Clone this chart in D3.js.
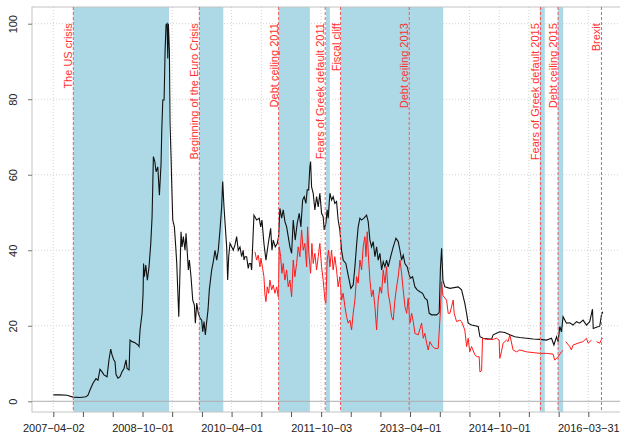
<!DOCTYPE html>
<html lang="en">
<head>
<meta charset="UTF-8">
<title>Volatility and events</title>
<script src="https://d3js.org/d3.v7.min.js"></script>
<style>
    body { margin: 0; padding: 0; background: #fff; }
    svg { display: block; font-family: "Liberation Sans", Arial, sans-serif; }
    .tick text { font-size: 11px; fill: #222; }
    .event-label { font-size: 11px; fill: #ff3030; }
</style>
</head>
<body>
<script>
// black series: decimal year / value
const blackYears = [2007.250,2007.363,2007.480,2007.581,2007.699,2007.800,2007.833,2007.867,2007.917,2007.968,
 2008.001,2008.035,2008.069,2008.102,2008.153,2008.186,2008.215,2008.237,2008.265,2008.287,2008.304,2008.337,
 2008.371,2008.405,2008.438,2008.472,2008.489,2008.523,2008.539,2008.573,2008.623,2008.674,2008.690,2008.707,
 2008.741,2008.758,2008.766,2008.779,2008.803,2008.830,2008.858,2008.887,2008.909,2008.931,2008.955,2008.976,
 2009.005,2009.032,2009.060,2009.072,2009.089,2009.111,2009.128,2009.144,2009.161,2009.173,2009.183,2009.200,
 2009.211,2009.228,2009.240,2009.257,2009.284,2009.307,2009.324,2009.341,2009.358,2009.379,2009.396,2009.413,
 2009.435,2009.463,2009.480,2009.502,2009.519,2009.536,2009.564,2009.593,2009.620,2009.637,2009.660,2009.687,
 2009.716,2009.744,2009.761,2009.783,2009.805,2009.828,2009.850,2009.872,2009.895,2009.912,2009.939,2009.968,
 2009.996,2010.023,2010.052,2010.080,2010.097,2010.119,2010.141,2010.164,2010.181,2010.198,2010.220,2010.248,
 2010.275,2010.304,2010.332,2010.359,2010.388,2010.416,2010.443,2010.455,2010.472,2010.500,2010.527,2010.544,
 2010.568,2010.584,2010.623,2010.668,2010.712,2010.736,2010.758,2010.791,2010.825,2010.864,2010.904,2010.926,
 2010.948,2010.981,2011.015,2011.038,2011.060,2011.089,2011.116,2011.144,2011.173,2011.200,2011.228,2011.257,
 2011.284,2011.317,2011.351,2011.385,2011.413,2011.442,2011.469,2011.497,2011.519,2011.543,2011.564,2011.576,
 2011.593,2011.620,2011.648,2011.677,2011.704,2011.732,2011.761,2011.788,2011.805,2011.833,2011.855,2011.872,
 2011.901,2011.929,2011.956,2011.984,2012.013,2012.040,2012.068,2012.097,2012.124,2012.169,2012.208,2012.253,
 2012.292,2012.321,2012.349,2012.376,2012.405,2012.433,2012.472,2012.517,2012.544,2012.573,2012.601,2012.628,
 2012.657,2012.685,2012.712,2012.741,2012.769,2012.796,2012.825,2012.853,2012.880,2012.921,2012.964,2013.010,
 2013.048,2013.077,2013.105,2013.132,2013.161,2013.200,2013.233,2013.257,2013.290,2013.329,2013.368,2013.413,
 2013.458,2013.497,2013.536,2013.570,2013.610,2013.694,2013.738,2013.758,2013.778,2013.800,2013.833,2013.918,
 2014.057,2014.114,2014.168,2014.199,2014.225,2014.282,2014.394,2014.423,2014.477,2014.618,2014.645,2014.702,
 2014.758,2014.842,2014.926,2015.010,2015.094,2015.207,2015.318,2015.431,2015.543,2015.627,2015.668,2015.712,
 2015.738,2015.767,2015.795,2015.822,2015.879,2015.934,2015.990,2016.047,2016.102,2016.158,2016.215,2016.270,
 2016.316,2016.329,2016.383,2016.438,2016.467,2016.489];
const blackValues = [1.7,1.7,1.6,1.1,1.0,1.2,1.6,3.0,4.8,6.0,
 5.6,8.5,7.8,7.0,6.5,11.0,13.8,12.3,11.0,10.5,7.1,6.1,
 6.5,7.8,8.7,11.0,8.7,8.3,16.2,15.8,15.5,14.9,14.5,18.9,
 23.3,28.6,36.5,33.0,36.1,32.1,35.6,41.8,48.9,64.8,63.5,60.8,
 62.1,54.6,63.0,71.8,79.8,79.8,93.0,99.7,100,90.8,100,93,
 73.7,64.8,57.3,48.0,46.2,40.9,36.5,29.5,22.4,34.8,44.9,40.9,
 43.6,40.0,44.5,39.2,34.8,37.4,33.0,26.8,25.5,20.7,26.0,23.3,
 22.0,21.5,18.4,21.1,17.6,21.1,24.2,29.5,32.6,34.8,37.0,40.0,
 37.4,40.0,45.4,51.5,58.2,51.5,46.2,40.9,32.1,38.3,41.8,40.9,
 40.0,41.4,43.6,40.0,40.9,38.3,40.0,37.4,38.3,38.3,35.2,36.5,
 36.5,34.8,49.3,48.0,48.5,46.2,48.0,41.8,37.4,41.8,45.8,40.0,
 42.7,40.9,41.8,43.6,51.1,48.5,50.7,47.6,46.2,43.6,40.9,39.2,
 48.0,42.7,47.1,49.8,46.2,53.3,54.2,52.4,56.0,56.0,62.1,63.5,
 56.8,55.1,50.7,54.2,51.5,55.1,49.8,48.9,45.4,47.1,50.7,48.5,
 55.1,53.3,54.2,52.4,52.9,48.0,45.4,40.0,37.4,36.5,33.4,29.9,
 30.8,35.6,41.4,46.2,48.5,48.0,48.5,49.3,47.6,42.7,40.9,42.3,
 38.3,40.9,37.4,39.2,34.8,37.0,35.6,37.4,35.6,38.3,40.9,43.2,
 42.3,40.0,37.4,38.7,36.5,35.6,33.4,32.6,33.0,30.3,29.5,29.0,
 28.6,27.3,26.8,23.3,22.9,22.9,23.5,35.0,40.5,32.1,30.3,29.9,
 30.3,29.5,26.0,23.3,20.7,20.2,19.8,17.1,16.7,16.4,17.6,18.0,
 18.4,18.2,17.6,17.1,16.9,16.7,16.5,16.4,16.2,16.7,14.9,17.1,
 15.8,19.8,18.4,22.4,20.7,20.8,20.2,21.1,20.7,21.5,20.2,21.1,
 24.4,19.3,19.6,19.9,22.9,23.7];

// red series (null = gap)
const redYears = [2010.640,2010.668,2010.695,2010.724,2010.741,2010.769,2010.791,2010.808,2010.825,2010.847,
 2010.870,2010.892,2010.921,2010.948,2010.976,2011.005,2011.032,2011.049,2011.072,2011.094,2011.116,2011.144,
 2011.173,2011.200,2011.228,2011.257,2011.284,2011.312,2011.341,2011.368,2011.396,2011.425,2011.452,2011.480,
 2011.509,2011.526,2011.547,2011.576,2011.598,2011.620,2011.648,2011.677,2011.704,2011.732,2011.761,2011.788,
 2011.817,2011.833,2011.855,2011.879,2011.901,2011.929,2011.956,2011.984,2012.013,2012.040,2012.068,2012.097,
 2012.124,2012.153,2012.181,2012.208,2012.237,2012.265,2012.292,2012.321,2012.349,2012.376,2012.405,2012.433,
 2012.460,2012.489,2012.506,2012.528,2012.551,2012.573,2012.601,2012.628,2012.657,2012.685,2012.712,2012.741,
 2012.769,2012.796,2012.825,2012.853,2012.880,2012.909,2012.937,2012.964,2012.992,2013.021,2013.048,2013.077,
 2013.105,2013.132,2013.161,2013.190,2013.216,2013.245,2013.274,2013.301,2013.329,2013.385,2013.442,2013.469,
 2013.497,2013.526,2013.553,2013.581,2013.627,2013.665,2013.721,2013.758,2013.778,2013.800,2013.862,2013.889,
 2013.918,2013.973,2013.990,2014.030,2014.086,2014.114,2014.168,2014.199,2014.225,2014.252,2014.282,2014.338,
 2014.376,2014.410,2014.423,2014.451,2014.467,2014.534,2014.645,2014.702,2014.746,2014.758,2014.785,2014.813,
 2014.869,2014.897,2014.926,2014.981,2015.038,2015.094,2015.207,2015.318,2015.431,2015.543,2015.654,2015.682,
 2015.738,2015.795,2015.822,2015.845,2015.867,2015.934,2015.962,2015.990,2016.074,2016.158,2016.215,2016.242,
 2016.299,2016.340,2016.383,2016.438,2016.467,2016.489];
const redValues = [39.6,37.4,38.7,35.6,37.9,35.2,33.0,28.2,26.4,30.3,
 28.6,32.1,29.5,30.8,28.6,30.3,27.7,40.9,38.3,33.9,36.5,32.1,
 34.8,30.3,32.1,27.7,37.4,33.0,36.5,40.9,38.3,45.4,40.0,41.8,
 35.6,46.2,39.2,33.9,41.8,36.5,39.2,34.8,38.3,41.8,35.6,32.1,
 26.8,26.0,37.4,40.0,35.6,40.0,34.8,38.3,34.8,30.3,33.0,26.8,
 28.6,25.1,22.4,20.7,21.5,18.9,23.3,26.8,33.0,31.3,37.4,34.8,
 40.9,43.6,38.3,44.9,37.4,32.1,27.7,29.5,25.1,18.9,26.8,30.3,
 28.6,34.8,31.3,35.6,28.6,26.0,22.4,21.5,26.8,30.3,33.0,37.4,
 33.9,29.5,25.1,23.3,27.3,20.7,23.3,21.1,18.0,17.6,20.7,16.7,
 18.0,15.4,13.6,15.8,14.5,14.0,14.0,24.0,31.7,28.0,26.8,23.3,
 23.3,26.8,23.3,21.1,21.5,21.1,18.9,14.5,16.7,13.1,14.5,12.3,
 11.8,11.8,7.8,8.1,16.7,16.4,16.4,16.7,16.2,11.4,13.1,15.4,
 16.2,15.8,17.6,13.6,13.1,13.6,13.1,12.9,12.7,12.7,12.5,10.9,
 11.8,13.1,13.5,null,15.8,14.5,13.6,14.9,15.4,15.8,16.7,15.4,
 16.2,null,15.8,15.4,16.4,16.7];

const eventNames = ["The US crisis", "Beginning of the Euro Crisis", "Debt ceiling 2011",
    "Fears of Greek default 2011", "Fiscal cliff", "Debt ceiling 2013",
    "Fears of Greek default 2015", "Debt ceiling 2015", "Brexit"];
const eventYears = [2007.586, 2009.704, 2011.038, 2011.822, 2012.080, 2013.233, 2015.442, 2015.738, 2016.467];

const shadeStart = [2007.586, 2009.704, 2011.038, 2011.833, 2012.080, 2015.430, 2015.735];
const shadeEnd   = [2009.195, 2010.107, 2011.564, 2011.901, 2013.805, 2015.514, 2015.824];

const tickDates = ["2007-04-02","2007-10-01","2008-04-01","2008-10-01","2009-04-01","2009-10-01",
    "2010-04-01","2010-10-01","2011-04-01","2011-10-03","2012-04-02","2012-10-01","2013-04-01",
    "2013-10-01","2014-04-01","2014-10-01","2015-04-01","2015-10-01","2016-03-31"];
const tickLabels = ["2007-04-02","2008-10-01","2010-04-01","2011-10-03","2013-04-01","2014-10-01","2016-03-31"];
const yTicks = [0, 20, 40, 60, 80, 100];

const W = 620, H = 434;
const plot = { left: 32, top: 7, right: 660, bottom: 412 };

const parse = d3.utcParse("%Y-%m-%d");
function decToDate(y) {
    const yr = Math.floor(y);
    const s = Date.UTC(yr, 0, 1), e = Date.UTC(yr + 1, 0, 1);
    return new Date(s + (y - yr) * (e - s));
}

const x = d3.scaleUtc()
    .domain([parse("2007-04-02"), parse("2016-03-31")])
    .range([53.3, 588.3]);
const y = d3.scaleLinear().domain([0, 100]).range([401.3, 23.7]);

const svg = d3.select("body").append("svg")
    .attr("width", W).attr("height", H);

svg.append("defs").append("clipPath").attr("id", "clip")
    .append("rect")
    .attr("x", plot.left).attr("y", plot.top)
    .attr("width", plot.right - plot.left).attr("height", plot.bottom - plot.top);

// grid
svg.append("g").selectAll("line")
    .data(yTicks.filter(d => d > 0))
    .join("line")
    .attr("x1", plot.left).attr("x2", plot.right)
    .attr("y1", d => y(d)).attr("y2", d => y(d))
    .attr("stroke", "#d3d3d3").attr("stroke-dasharray", "1,2");
svg.append("g").selectAll("line")
    .data(tickDates)
    .join("line")
    .attr("x1", d => x(parse(d))).attr("x2", d => x(parse(d)))
    .attr("y1", plot.top).attr("y2", plot.bottom)
    .attr("stroke", "#d3d3d3").attr("stroke-dasharray", "1,2");

// shaded periods
svg.append("g").selectAll("rect")
    .data(shadeStart.map((s, i) => [s, shadeEnd[i]]))
    .join("rect")
    .attr("x", d => x(decToDate(d[0])))
    .attr("width", d => x(decToDate(d[1])) - x(decToDate(d[0])))
    .attr("y", plot.top).attr("height", plot.bottom - plot.top)
    .attr("fill", "#add8e6");

// zero line
svg.append("line")
    .attr("x1", plot.left).attr("x2", plot.right)
    .attr("y1", y(0)).attr("y2", y(0))
    .attr("stroke", "#b0b0b0");

// frame
svg.append("rect")
    .attr("x", plot.left).attr("y", plot.top)
    .attr("width", plot.right - plot.left).attr("height", plot.bottom - plot.top)
    .attr("fill", "none").attr("stroke", "#c4c4c4");

// series
const line = d3.line()
    .defined(d => d[1] !== null)
    .x(d => x(decToDate(d[0])))
    .y(d => y(d[1]));

const g = svg.append("g").attr("clip-path", "url(#clip)");
g.append("path")
    .datum(blackYears.map((t, i) => [t, blackValues[i]]))
    .attr("d", line)
    .attr("fill", "none").attr("stroke", "#111").attr("stroke-width", 1.1);
g.append("path")
    .datum(redYears.map((t, i) => [t, redValues[i]]))
    .attr("d", line)
    .attr("fill", "none").attr("stroke", "#ff1a1a").attr("stroke-width", 1);

// events
const ev = svg.append("g").selectAll("g")
    .data(eventNames.map((n, i) => ({ name: n, t: decToDate(eventYears[i]) })))
    .join("g");
ev.append("line")
    .attr("x1", d => x(d.t)).attr("x2", d => x(d.t))
    .attr("y1", plot.top).attr("y2", plot.bottom)
    .attr("stroke", "#f05a5a").attr("stroke-dasharray", "3,2").attr("stroke-width", 1);
ev.append("text")
    .attr("class", "event-label")
    .attr("transform", d => `translate(${x(d.t) - 1},${y(100) - 0.5}) rotate(-90)`)
    .attr("text-anchor", "end")
    .text(d => d.name);

// axes (R draws the dashes in dates as minus signs)
const xAxis = d3.axisBottom(x)
    .tickValues(tickDates.map(parse))
    .tickSize(5)
    .tickPadding(7)
    .tickFormat(d => {
        const s = d3.utcFormat("%Y-%m-%d")(d);
        return tickLabels.includes(s) ? s.replace(/-/g, "\u2212") : "";
    });
svg.append("g")
    .attr("transform", `translate(0,${plot.bottom})`)
    .call(xAxis)
    .call(a => a.select(".domain").remove())
    .call(a => a.selectAll(".tick line").attr("stroke", "#555"));

const yAxis = d3.axisLeft(y).tickValues(yTicks).tickSize(4);
svg.append("g")
    .attr("transform", `translate(${plot.left},0)`)
    .call(yAxis)
    .call(a => a.select(".domain").remove())
    .call(a => a.selectAll(".tick line").attr("stroke", "#777"))
    .call(a => a.selectAll(".tick text")
        .attr("transform", "rotate(-90)")
        .attr("x", 0).attr("y", -15).attr("dy", 0)
        .attr("text-anchor", "middle"));
</script>
</body>
</html>
